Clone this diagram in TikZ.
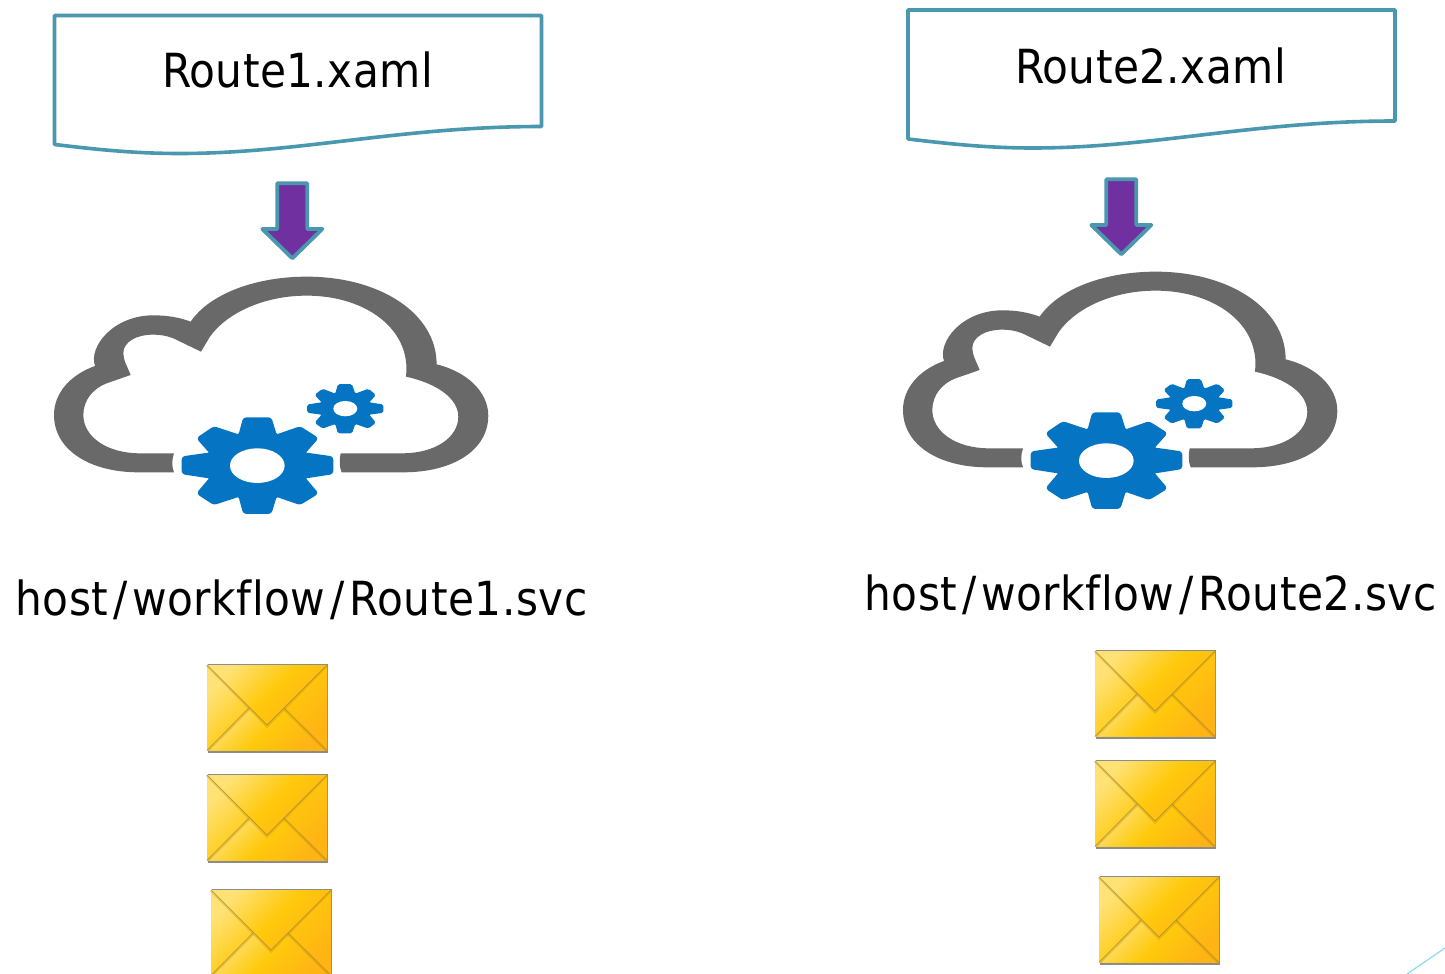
\documentclass[tikz,border=0pt]{standalone}
\usepackage{fontspec}
\setmainfont[Ligatures=NoCommon]{DejaVu Sans Condensed}
\definecolor{teal1}{HTML}{4A97B0}
\definecolor{purp}{HTML}{7030A0}
\definecolor{cloudgray}{HTML}{696969}
\definecolor{gearblue}{HTML}{0575C3}
\definecolor{cy}{HTML}{90DAF2}
\definecolor{envL}{HTML}{FFE276}
\definecolor{envM}{HTML}{FFC90C}
\definecolor{envR}{HTML}{FFB414}
\definecolor{envE}{HTML}{B08A20}
\tikzset{
  docbox/.style={draw=teal1,line width=3.6pt,line join=round,fill=white},
  arrowshape/.style={draw=teal1,line width=3.8pt,line join=round,fill=purp},
  lab/.style={anchor=base,font=\fontsize{47}{47}\selectfont,inner sep=0pt,text=black},
  gearshape/.style={fill=gearblue,draw=gearblue,line width=2pt,line join=round,rounded corners=2.5pt},
  envshade/.style={left color=envL,right color=envR,middle color=envM,shading angle=45},
}
\newcommand{\slashgap}{\kern5pt/\kern5pt}
\newcommand{\docshape}[2]{%
 \begin{scope}[shift={(#1,#2)}]
 \draw[docbox] (0,0) -- (487,0) -- (487,111) .. controls (345,111) and (245,138) .. (125,138) .. controls (75,138) and (35,133) .. (0,129) -- cycle;
 \end{scope}}
\newcommand{\downarrowshape}[2]{%
 \begin{scope}[shift={(#1,#2)},x=0.3333pt,y=-0.3333pt]
 \draw[arrowshape] (712,40) -- (802,40) -- (802,177) -- (847,177) -- (757,265) -- (667,177) -- (712,177) -- cycle;
 \end{scope}}
\newcommand{\cloudgear}[2]{%
 \begin{scope}[shift={(#1,#2)},x=0.3333pt,y=-0.3333pt]
 \fill[cloudgray] (400,907) -- (295,907) .. controls (150,907) and (42,840) .. (42,735)
   .. controls (42,670) and (90,615) .. (165,588)
   .. controls (145,530) and (220,436) .. (340,436)
   .. controls (385,436) and (420,443) .. (452,455)
   .. controls (510,370) and (650,320) .. (800,320)
   .. controls (1020,320) and (1190,430) .. (1190,583)
   .. controls (1280,605) and (1345,665) .. (1345,737)
   .. controls (1345,840) and (1240,907) .. (1090,907)
   -- (905,907) .. controls (898,890) and (898,870) .. (902,850) -- (1085,850)
   .. controls (1190,850) and (1255,800) .. (1255,740)
   .. controls (1255,685) and (1190,640) .. (1098,620)
   .. controls (1115,480) and (980,377) .. (800,377)
   .. controls (670,377) and (560,430) .. (510,500)
   -- (483,545) -- (400,505)
   .. controls (380,497) and (360,494) .. (340,494)
   .. controls (290,494) and (250,515) .. (250,550)
   .. controls (250,570) and (262,590) .. (272,615)
   -- (200,640) .. controls (160,655) and (130,690) .. (130,735)
   .. controls (130,800) and (200,850) .. (300,850)
   -- (402,850) .. controls (395,870) and (395,890) .. (402,907) -- cycle;
 \draw[gearshape] (612,745) -- (692,745) -- (708,797) -- (780,772) -- (832,805) -- (792,850) -- (877,862) -- (877,910) -- (792,923) -- (832,970) -- (780,1002) -- (708,977) -- (692,1029) -- (612,1029) -- (598,977) -- (522,1002) -- (473,970) -- (513,923) -- (428,910) -- (428,862) -- (513,850) -- (473,805) -- (522,772) -- (598,797) -- cycle;
 \fill[white] (652,887) ellipse [x radius=82,y radius=52];
 \draw[gearshape,rounded corners=1.5pt,line width=1pt] (895,644) -- (935,644) -- (945,673) -- (985,658) -- (1006,675) -- (985,698) -- (1029,705) -- (1029,727) -- (985,733) -- (1006,758) -- (985,774) -- (945,760) -- (935,789) -- (895,789) -- (887,760) -- (848,774) -- (826,758) -- (848,733) -- (803,727) -- (803,705) -- (848,698) -- (826,675) -- (848,658) -- (887,673) -- cycle;
 \fill[white] (916,716) ellipse [x radius=36,y radius=23];
 \end{scope}}
\newcommand{\mailicon}[2]{%
 \begin{scope}[shift={(#1,#2)}]
 \fill[black!45] (0.5,-0.7) rectangle (121,87.5);
 \shade[envshade] (0,0) rectangle (120,85.5);
 \shade[envshade] (0,85.5) -- (42,43) -- (60,61) -- (77,43) -- (120,85.5) -- cycle;
 \draw[envE,opacity=.3,line width=2.5pt] (1,85.5) -- (42,44) (77,44) -- (119,85.5);
 \draw[envE,opacity=.6,line width=.8pt] (0,85.5) -- (42,43) (77,43) -- (120,85.5);
 \draw[envE,opacity=.3,line width=3pt] (0,0) -- (60,61) -- (120,0);
 \shade[envshade] (0,0) -- (120,0) -- (60,60) -- cycle;
 \draw[envE,opacity=.7,line width=.8pt] (0,0) -- (60,60) -- (120,0);
 \end{scope}}
\begin{document}
\begin{tikzpicture}[x=1pt,y=-1pt]
\useasboundingbox (0,0) rectangle (1445,974);
\clip (0,0) rectangle (1445,974);
\fill[white] (0,0) rectangle (1445,974);
\docshape{54.5}{15.5}
\docshape{908}{10}
\node[lab] (titleA) at (297.5,88) {\addfontfeature{LetterSpace=0.9}Route1.xaml};
\node[lab] (titleB) at (1150.5,83) {\addfontfeature{LetterSpace=0.9}Route2.xaml};
\downarrowshape{40}{170}
\downarrowshape{869}{166}
\cloudgear{40}{170}
\cloudgear{889}{165}
\node[lab] (hostA) at (301.5,615) {\addfontfeature{LetterSpace=1.1}host\slashgap workflow\slashgap Route1.svc};
\node[lab] (hostB) at (1150.5,610) {\addfontfeature{LetterSpace=1.1}host\slashgap workflow\slashgap Route2.svc};
\mailicon{207}{665}
\mailicon{207}{775}
\mailicon{211}{890}
\mailicon{1095}{651}
\mailicon{1095}{761}
\mailicon{1099}{877}
\coordinate (lineA) at (1407,974);
\coordinate (lineB) at (1445,948);
\draw[cy,line width=1.2pt] (lineA) -- (lineB);
\end{tikzpicture}
\end{document}
